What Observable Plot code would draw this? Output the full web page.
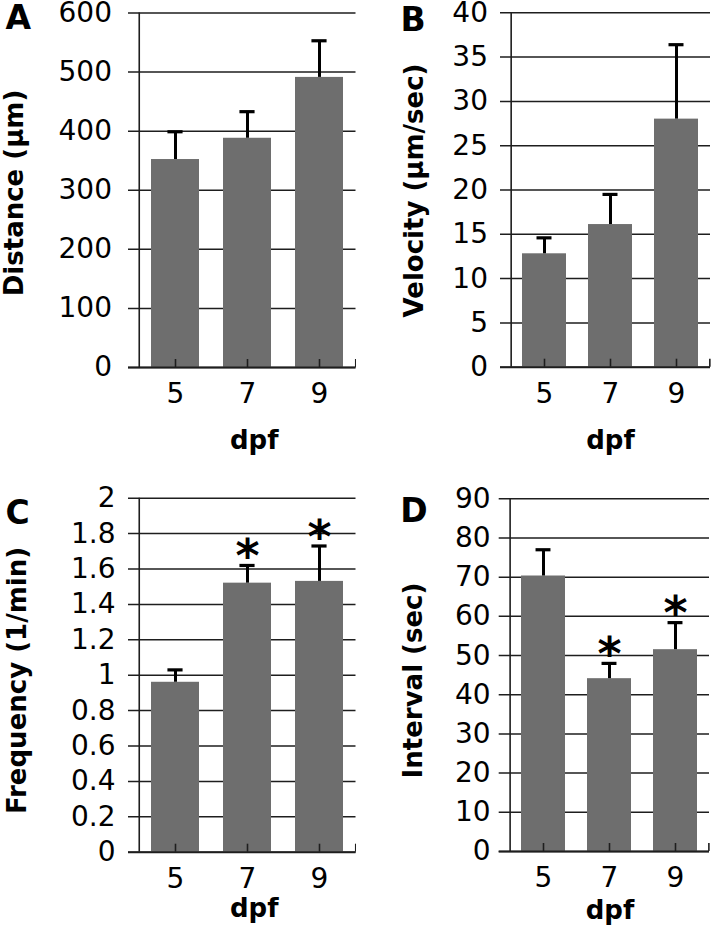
<!DOCTYPE html>
<html><head><meta charset="utf-8">
<script src="https://cdn.jsdelivr.net/npm/d3@7"></script>
<script src="https://cdn.jsdelivr.net/npm/@observablehq/plot@0.6"></script>
<style>
html,body{margin:0;padding:0;background:#fff;}
#fig{position:relative;width:712px;height:942px;overflow:hidden;background:#fff;}
#fig > div{position:absolute;}
</style></head><body><div id="fig"></div>
<script>
// ---- data ----
const dpf = ["5", "7", "9"];

const distanceMean = [352, 388, 491];
const distanceErr = [47, 45, 62];
const distanceTicks = [0, 100, 200, 300, 400, 500, 600];
const distanceTickLabels = ["0", "100", "200", "300", "400", "500", "600"];

const velocityMean = [12.8, 16.1, 28.0];
const velocityErr = [1.8, 3.4, 8.4];
const velocityTicks = [0, 5, 10, 15, 20, 25, 30, 35, 40];
const velocityTickLabels = ["0", "5", "10", "15", "20", "25", "30", "35", "40"];

const frequencyMean = [0.96, 1.52, 1.53];
const frequencyErr = [0.07, 0.10, 0.20];
const frequencySig = ["", "*", "*"];
const frequencyTicks = [0, 0.2, 0.4, 0.6, 0.8, 1, 1.2, 1.4, 1.6, 1.8, 2];
const frequencyTickLabels = ["0", "0.2", "0.4", "0.6", "0.8", "1", "1.2", "1.4", "1.6", "1.8", "2"];

const intervalMean = [70.3, 44.1, 51.5];
const intervalErr = [6.7, 3.9, 6.9];
const intervalSig = ["", "*", "*"];
const intervalTicks = [0, 10, 20, 30, 40, 50, 60, 70, 80, 90];
const intervalTickLabels = ["0", "10", "20", "30", "40", "50", "60", "70", "80", "90"];

// ---- drawing ----
function panel(cfg) {
  const {letter, title, mean, err, sig, ticks, tickLabels, width, height, m, tickPad, titlePos, letterPos, dpfPos} = cfg;
  const rows = dpf.map((d, i) => ({dpf: d, mean: mean[i], top: mean[i] + err[i], sig: sig ? sig[i] : ""}));
  const pad = 0.34;
  const plotW = width - m.left - m.right;
  const plotH = height - m.top - m.bottom;
  const step = plotW / dpf.length;
  const bw = step * (1 - pad);
  const capW = 15;
  const ink = "#1e1e1e";
  const marks = [
    Plot.ruleY(ticks, {insetLeft: -10, stroke: ink, strokeWidth: 1.5}),
    Plot.barY(rows, {x: "dpf", y: "mean", fill: "#6e6e6e"}),
    Plot.ruleX(rows, {x: "dpf", y1: "mean", y2: "top", stroke: "#000", strokeWidth: 3}),
    Plot.tickY(rows, {x: "dpf", y: "top", stroke: "#000", strokeWidth: 3.2,
      insetLeft: (bw - capW) / 2, insetRight: (bw - capW) / 2}),
    Plot.tickX([dpf[0]], {x: d => d, dx: -step / 2, stroke: ink, strokeWidth: 1.6}),
    Plot.ruleY([0], {insetLeft: -10, stroke: ink, strokeWidth: 2}),
    Plot.tickX(dpf, {x: d => d, insetTop: plotH - 8, stroke: ink, strokeWidth: 1.6}),
    Plot.tickX([dpf[dpf.length - 1]], {x: d => d, dx: step / 2, insetTop: plotH - 8, stroke: ink, strokeWidth: 1.6}),
    Plot.axisY({ticks, tickSize: 0, tickPadding: tickPad, label: null,
      tickFormat: d => tickLabels[ticks.indexOf(d)], fontSize: 28, fill: "#000"}),
    Plot.axisX({tickSize: 0, tickPadding: 16, label: null, fontSize: 28, fill: "#000"}),
    Plot.text([title], {frameAnchor: "left", textAnchor: "middle", lineAnchor: "middle", rotate: -90,
      dx: titlePos[0], dy: titlePos[1], fontSize: 26, fontWeight: "bold", fill: "#000"}),
    Plot.text([letter], {frameAnchor: "top-left", textAnchor: "start", lineAnchor: "top",
      dx: letterPos[0], dy: letterPos[1], fontSize: 33, fontWeight: "bold", fill: "#000"}),
    Plot.text(["dpf"], {frameAnchor: "bottom", textAnchor: "middle", lineAnchor: "top", dx: dpfPos[0], dy: dpfPos[1],
      fontSize: 26, fontWeight: "bold", fill: "#000"})
  ];
  if (sig) marks.push(Plot.text(rows, {x: "dpf", y: "top", text: "sig", fontSize: 46,
    fontWeight: "bold", lineAnchor: "middle", dy: -8, fill: "#000"}));
  return Plot.plot({
    width, height,
    marginLeft: m.left, marginRight: m.right, marginTop: m.top, marginBottom: m.bottom,
    style: {fontFamily: "DejaVu Sans", fontSize: "27px", color: "#000", background: "#fff", overflow: "visible"},
    x: {type: "band", domain: dpf, paddingInner: pad, paddingOuter: pad / 2, axis: null},
    y: {domain: [0, ticks[ticks.length - 1]], axis: null},
    marks
  });
}

const panels = [
  {left: 0, top: 0, letter: "A", title: "Distance (µm)", mean: distanceMean, err: distanceErr,
   ticks: distanceTicks, tickLabels: distanceTickLabels, width: 356, height: 470,
   m: {left: 138, right: 0.5, top: 12.5, bottom: 103}, tickPad: 26.5,
   titlePos: [-124, 2.75], letterPos: [-133, -7.5], dpfPos: [7, 63]},
  {left: 356, top: 0, letter: "B", title: "Velocity (µm/sec)", mean: velocityMean, err: velocityErr,
   ticks: velocityTicks, tickLabels: velocityTickLabels, width: 356, height: 470,
   m: {left: 154, right: 2, top: 12.3, bottom: 103.3}, tickPad: 22.5,
   titlePos: [-95.5, 0.5], letterPos: [-110, -5.6], dpfPos: [0, 63.3]},
  {left: 0, top: 470, letter: "C", title: "Frequency (1/min)", mean: frequencyMean, err: frequencyErr,
   sig: frequencySig, ticks: frequencyTicks, tickLabels: frequencyTickLabels, width: 356, height: 472,
   m: {left: 138, right: 0.5, top: 27.7, bottom: 90.3}, tickPad: 23,
   titlePos: [-120.5, 5.3], letterPos: [-133, 2.3], dpfPos: [7, 46.5]},
  {left: 356, top: 470, letter: "D", title: "Interval (sec)", mean: intervalMean, err: intervalErr,
   sig: intervalSig, ticks: intervalTicks, tickLabels: intervalTickLabels, width: 356, height: 472,
   m: {left: 152.7, right: 3, top: 28.3, bottom: 91}, tickPad: 18.5,
   titlePos: [-95.2, 5.35], letterPos: [-109, 0], dpfPos: [0.65, 49]}
];

const fig = document.getElementById("fig");
for (const p of panels) {
  const div = document.createElement("div");
  div.style.left = p.left + "px";
  div.style.top = p.top + "px";
  div.appendChild(panel(p));
  fig.appendChild(div);
}
</script>
</body></html>
